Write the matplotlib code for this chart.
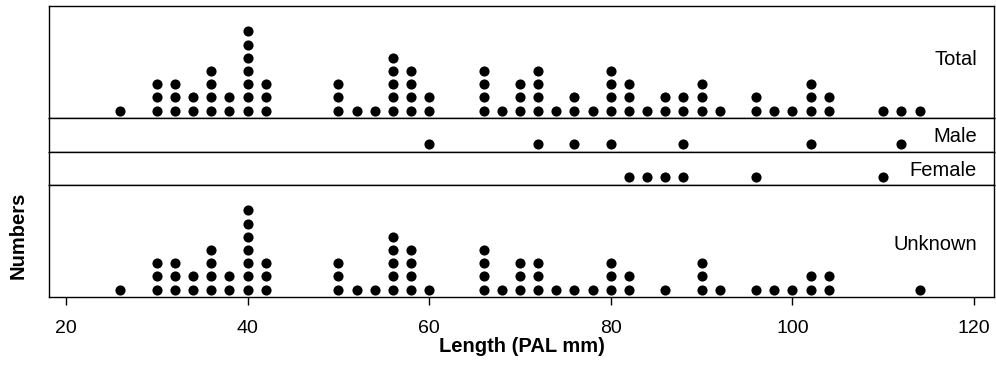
import numpy as np
import matplotlib
matplotlib.use("Agg")
import matplotlib.pyplot as plt

plt.rcParams["font.family"] = ["Liberation Sans", "DejaVu Sans"]

# veri: boy (PAL mm) ve her boydaki birey sayısı
total_len = [26, 30, 32, 34, 36, 38, 40, 42, 50, 52, 54, 56, 58, 60, 66, 68, 70, 72, 74, 76, 78,
             80, 82, 84, 86, 88, 90, 92, 96, 98, 100, 102, 104, 110, 112, 114]
total_n = [1, 3, 3, 2, 4, 2, 7, 3, 3, 1, 1, 5, 4, 2, 4, 1, 3, 4, 1, 2, 1,
           4, 3, 1, 2, 2, 3, 1, 2, 1, 1, 3, 2, 1, 1, 1]

male_len = [60, 72, 76, 80, 88, 102, 112]
male_n = [1, 1, 1, 1, 1, 1, 1]

female_len = [82, 84, 86, 88, 96, 110]
female_n = [1, 1, 1, 1, 1, 1]

unknown_len = [26, 30, 32, 34, 36, 38, 40, 42, 50, 52, 54, 56, 58, 60, 66, 68, 70, 72, 74, 76, 78,
               80, 82, 86, 90, 92, 96, 98, 100, 102, 104, 114]
unknown_n = [1, 3, 3, 2, 4, 2, 7, 3, 3, 1, 1, 5, 4, 1, 4, 1, 3, 3, 1, 1, 1,
             3, 2, 1, 3, 1, 1, 1, 1, 2, 2, 1]

panels = [("Total", total_len, total_n),
          ("Male", male_len, male_n),
          ("Female", female_len, female_n),
          ("Unknown", unknown_len, unknown_n)]

x_ticks = [20, 40, 60, 80, 100, 120]


def stack(lengths, counts):
    # her değeri üst üste nokta olarak diz
    xs, ys = [], []
    for v, c in zip(lengths, counts):
        for k in range(c):
            xs.append(v)
            ys.append(k)
    return np.array(xs), np.array(ys)


fig = plt.figure(figsize=(9.96, 3.69), dpi=100)
gs = fig.add_gridspec(4, 1, height_ratios=[112, 34, 33, 112], hspace=0,
                      left=49 / 996, right=994 / 996, top=1 - 6 / 369, bottom=1 - 297 / 369)

label_y = [0.52, 0.45, 0.45, 0.465]
step = 13.2  # noktalar arası piksel
for i, (name, lens, cnts) in enumerate(panels):
    ax = fig.add_subplot(gs[i])
    xs, ys = stack(lens, cnts)
    ax.plot(xs, ys, "o", color="black", markersize=7.3, markeredgewidth=0)
    h = [112, 34, 33, 112][i]
    bottom_px = 7.5 if h > 50 else 8
    ax.set_ylim(-bottom_px / step, (h - bottom_px) / step)
    ax.set_xlim(18.13, 122.2)
    ax.set_yticks([])
    for s in ax.spines.values():
        s.set_linewidth(1.0)
    ax.text(0.982, label_y[i], name, transform=ax.transAxes, ha="right", va="center",
            fontsize=14.5)
    if i < 3:
        ax.set_xticks([])
    else:
        ax.set_xticks(x_ticks)
        ax.tick_params(axis="x", direction="out", length=5.5, width=1.0, labelsize=14, pad=11)
        ax.set_xlabel("Length (PAL mm)", fontsize=14.5, fontweight="bold", labelpad=0)

fig.text(18 / 996, 1 - 235 / 369, "Numbers", rotation=90, ha="center", va="center",
         fontsize=14.5, fontweight="bold")

fig.savefig("out.png", dpi=100)
